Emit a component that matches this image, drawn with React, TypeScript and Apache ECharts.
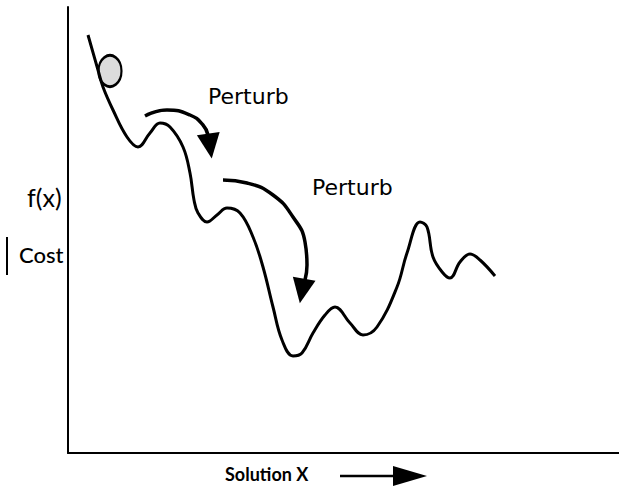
import React, { useEffect, useRef } from "react";
import * as echarts from "echarts";

// Cost landscape f(x) over solution x (units: arbitrary, 0..551 wide, 0..446 tall)
const costCurve: [number, number][] = [
  [20, 418], [30, 383], [35, 366], [45, 343], [59, 316], [70, 306], [82, 320], [92, 330],
  [102, 326], [115, 306], [122, 280], [126, 253], [130, 240], [139, 231], [149, 238],
  [159, 245], [172, 240], [185, 216], [195, 186], [205, 146], [214, 113], [225, 97],
  [234, 100], [245, 120], [257, 138], [267, 146], [282, 130], [295, 118], [309, 126],
  [329, 166], [339, 200], [352, 231], [359, 226], [365, 196], [375, 180], [382, 175],
  [392, 191], [402, 199], [412, 193], [427, 177],
];
const perturb1: [number, number][] = [[77, 337], [99, 343], [122, 338], [135, 328], [140, 318]];
const perturb2: [number, number][] = [[155, 273], [179, 270], [205, 258], [225, 236], [237, 211], [239, 188], [237, 173]];
const arrowHeads: { value: [number, number]; rotate: number }[] = [
  { value: [142, 307], rotate: 188 },
  { value: [234, 162], rotate: 170 },
];
const ball: [number, number][] = [[42, 382]];
const perturbLabel = "Perturb";
const yLabel1 = "f(x)";
const yLabel2 = "Cost";
const xLabel = "Solution X";

export default function App() {
  const ref = useRef<HTMLDivElement>(null);
  useEffect(() => {
    const chart = echarts.init(ref.current!, null, { renderer: "svg" });
    chart.setOption({
      animation: false,
      backgroundColor: "#ffffff",
      grid: { left: 68, top: 7, right: 0, bottom: 33 },
      xAxis: {
        type: "value", min: 0, max: 551,
        axisLine: { show: true, onZero: false, lineStyle: { color: "#000", width: 2 } },
        axisTick: { show: false }, axisLabel: { show: false }, splitLine: { show: false },
      },
      yAxis: {
        type: "value", min: 0, max: 446,
        axisLine: { show: true, onZero: false, lineStyle: { color: "#000", width: 2 } },
        axisTick: { show: false }, axisLabel: { show: false }, splitLine: { show: false },
      },
      series: [
        {
          type: "line", data: costCurve, smooth: 0.4, symbol: "none",
          lineStyle: { color: "#000", width: 3 },
        },
        {
          type: "line", data: perturb1, smooth: 0.5, symbol: "none",
          lineStyle: { color: "#000", width: 3.5 },
        },
        {
          type: "line", data: perturb2, smooth: 0.5, symbol: "none",
          lineStyle: { color: "#000", width: 3.5 },
        },
        {
          type: "scatter",
          data: arrowHeads.map((a) => ({ value: a.value, symbolRotate: a.rotate })),
          symbol: "triangle", symbolSize: [23, 25],
          itemStyle: { color: "#000", opacity: 1 },
        },
        {
          type: "scatter", data: ball, symbol: "circle", symbolSize: [23, 31],
          itemStyle: {
            color: "#dcdcdc", borderColor: "#000", borderWidth: 2.5, opacity: 1,
          },
        },
      ],
      graphic: [
        { type: "text", left: 208, top: 85, style: { text: perturbLabel, font: "22px 'DejaVu Sans'", fill: "#000" } },
        { type: "text", left: 312, top: 176, style: { text: perturbLabel, font: "22px 'DejaVu Sans'", fill: "#000" } },
        { type: "text", left: 27, top: 184, style: { text: yLabel1, font: "25px Lato", fill: "#000" } },
        { type: "text", left: 19, top: 243, style: { text: yLabel2, font: "500 22px Lato", fill: "#000" } },
        { type: "line", shape: { x1: 7, y1: 237, x2: 7, y2: 275 }, style: { stroke: "#000", lineWidth: 2 } },
        { type: "text", left: 225, top: 465, style: { text: xLabel, font: "bold 18px Lato", fill: "#000" } },
        { type: "line", shape: { x1: 340, y1: 476, x2: 398, y2: 476 }, style: { stroke: "#000", lineWidth: 2.5 } },
        { type: "polygon", shape: { points: [[393, 466], [427, 476], [393, 486]] }, style: { fill: "#000" } },
      ],
    });
    return () => chart.dispose();
  }, []);
  return <div ref={ref} style={{ width: 619, height: 486, position: "absolute", left: 0, top: 0 }} />;
}
